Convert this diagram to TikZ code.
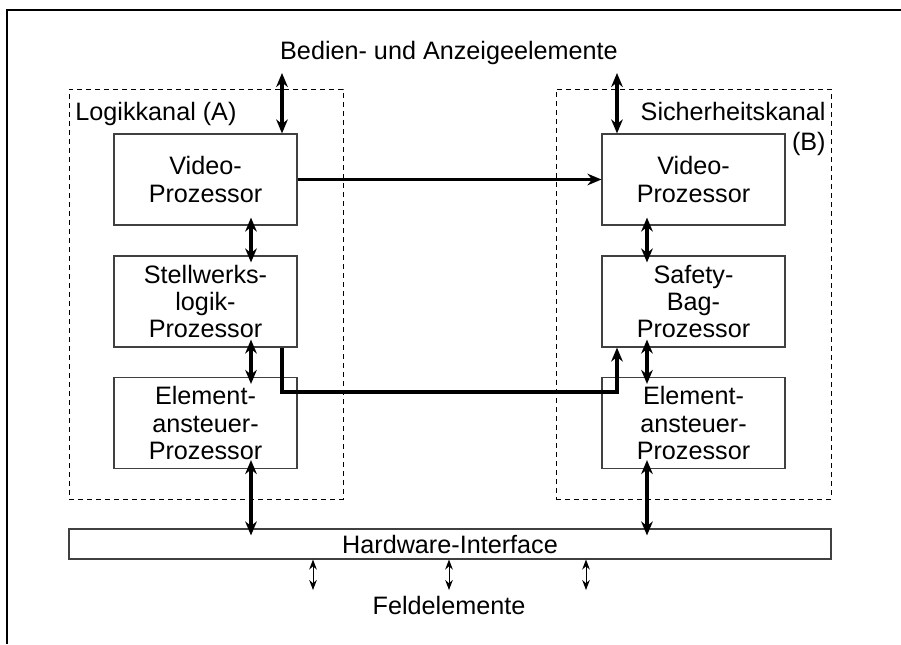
\documentclass[tikz,border=0pt]{standalone}
\usepackage{fontspec}
\setmainfont{Liberation Sans}
\usetikzlibrary{arrows.meta}
\begin{document}
\begin{tikzpicture}[x=0.5pt,y=-0.5pt,
  every node/.style={font=\fontsize{12.6}{13.6}\selectfont},
  proc/.style={draw=black!75, line width=0.55pt, minimum width=91.5pt,
    minimum height=45.5pt, inner sep=0pt, align=center},
  channel/.style={draw, dash pattern=on 2.5pt off 2pt, line width=0.45pt,
    inner sep=0pt},
  plain/.style={inner sep=0pt},
  bigdbl/.style={{Stealth[length=7pt,width=5.8pt]}-{Stealth[length=7pt,width=5.8pt]},
    line width=1.8pt},
  bigarr/.style={-{Stealth[length=7pt,width=5.8pt]}, line width=1.8pt},
  smalldbl/.style={{Stealth[length=5pt,width=3.8pt]}-{Stealth[length=5pt,width=3.8pt]},
    line width=0.5pt},
  frame/.style={line width=0.6pt}
]
\useasboundingbox (0,0) rectangle (901,644);

% outer frame (top and left edges)
\draw[frame] (7,644) -- (7,10) -- (901,10);

% channels
\node[channel, minimum width=137pt, minimum height=205pt] (chA) at (206,294) {};
\node[channel, minimum width=137.5pt, minimum height=205pt] (chB) at (693.5,294) {};

\node[plain, anchor=base] (bed) at (449,59) {Bedien- und Anzeigeelemente};
\node[plain, anchor=base west] (labA) at (75,120) {Logikkanal (A)};
\node[plain, anchor=base east] (labB1) at (826,120) {Sicherheitskanal};
\node[plain, anchor=base east] (labB2) at (826,150) {(B)};

% processors, channel A
\node[proc] (vA) at (205.5,179.5) {Video-\\Prozessor};
\node[proc] (sA) at (205.5,301.5) {Stellwerks-\\logik-\\Prozessor};
\node[proc] (eA) at (205.5,423) {Element-\\ansteuer-\\Prozessor};

% processors, channel B
\node[proc] (vB) at (693.5,179.5) {Video-\\Prozessor};
\node[proc] (sB) at (693.5,301.5) {Safety-\\Bag-\\Prozessor};
\node[proc] (eB) at (693.5,423) {Element-\\ansteuer-\\Prozessor};

% hardware interface
\node[proc, minimum width=381pt, minimum height=15pt] (hw) at (450,544) {};
\node[plain, anchor=base] (hwt) at (450,553) {Hardware-Interface};
\node[plain, anchor=base] (feld) at (449,614) {Feldelemente};

% column positions of the connectors
\coordinate (cA1) at (251,0);
\coordinate (cA2) at (282,0);
\coordinate (cB1) at (647,0);
\coordinate (cB2) at (617,0);
\coordinate (topA) at (282,73);
\coordinate (topB) at (617,73);
\coordinate (bend) at (0,392);
\coordinate (f1) at (313,590);
\coordinate (f2) at (449,590);
\coordinate (f3) at (586,590);

% operator interface
\draw[bigdbl] (topA) -- (topA |- vA.north);
\draw[bigdbl] (topB) -- (topB |- vB.north);

% inner links, channel A
\draw[bigdbl, shorten <=-4pt, shorten >=-3.5pt] (vA.south -| cA1) -- (sA.north -| cA1);
\draw[bigdbl, shorten <=-4pt, shorten >=-3.5pt] (sA.south -| cA1) -- (eA.north -| cA1);
\draw[bigdbl, shorten <=-4.5pt, shorten >=-3.5pt] (eA.south -| cA1) -- (hw.north -| cA1);

% inner links, channel B
\draw[bigdbl, shorten <=-4pt, shorten >=-3.5pt] (vB.south -| cB1) -- (sB.north -| cB1);
\draw[bigdbl, shorten <=-4pt, shorten >=-3.5pt] (sB.south -| cB1) -- (eB.north -| cB1);
\draw[bigdbl, shorten <=-4.5pt, shorten >=-3.5pt] (eB.south -| cB1) -- (hw.north -| cB1);

% cross-channel links
\draw[bigarr] (vA.east) -- (vB.west);
\draw[bigarr] (sA.south -| cA2) -- (bend -| cA2) -- (bend -| cB2) -- (sB.south -| cB2);

% field elements
\draw[smalldbl] (hw.south -| f1) -- (f1);
\draw[smalldbl] (hw.south -| f2) -- (f2);
\draw[smalldbl] (hw.south -| f3) -- (f3);
\end{tikzpicture}
\end{document}
